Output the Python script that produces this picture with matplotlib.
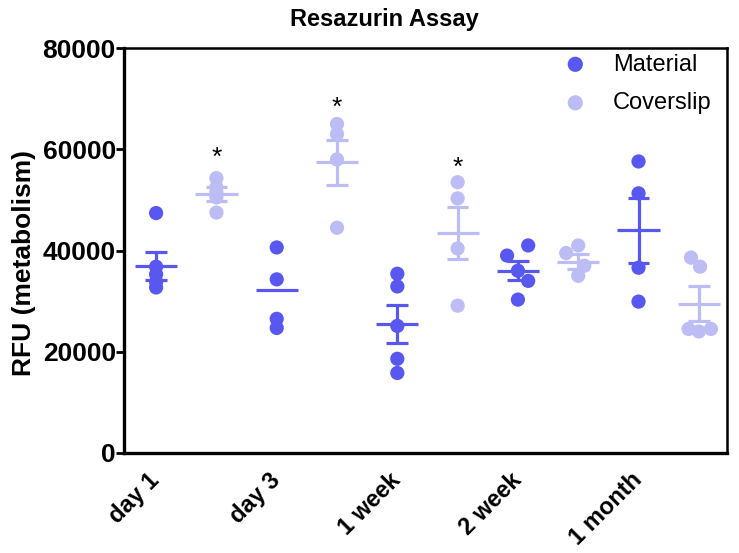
import numpy as np
import matplotlib.pyplot as plt

plt.rcParams['font.family'] = ['Liberation Sans', 'DejaVu Sans']

groups = ["day 1", "day 3", "1 week", "2 week", "1 month"]

# individual replicate values (RFU)
material = [
    [47400, 36800, 35300, 33800, 32700],
    [40600, 34300, 26500, 24700],
    [35400, 32900, 25100, 18600, 15800],
    [41000, 39000, 36000, 34000, 30300],
    [57600, 51300, 36600, 29900],
]
coverslip = [
    [54300, 52500, 51500, 50500, 47500],
    [65000, 63000, 58000, 44500],
    [53500, 50300, 40400, 29100],
    [41000, 39500, 37000, 35000],
    [38600, 36800, 24500, 24000, 24500],
]
# scatter spread as drawn in the original
material_jit = [[0] * 5, [0] * 4, [0] * 5, [0.17, -0.18, 0, 0.17, 0], [0] * 4]
coverslip_jit = [[0] * 5, [0] * 4, [0] * 4, [0, -0.2, 0.1, 0], [-0.13, 0.02, -0.17, 0, 0.2]]

material_mean = [37000, 32100, 25500, 36000, 44000]
material_sem = [2800, 0, 3800, 1900, 6450]
coverslip_mean = [51100, 57400, 43400, 37800, 29500]
coverslip_sem = [1400, 4400, 5100, 1500, 3400]

# significance marks above coverslip groups
star_groups = [0, 1, 2]
star_y = [58300, 68200, 56300]

c_mat = "#5858f0"
c_cov = "#bdbdf6"

fig = plt.figure(figsize=(7.39, 5.53), dpi=100)
ax = fig.add_axes([0.168, 0.181, 0.816, 0.732])


def draw_group(x, pts, jit, mean, sem, color):
    xs = x + np.array(jit)
    ax.scatter(xs, pts, s=105, color=color, edgecolors="none", zorder=3)
    ax.hlines(mean, x - 0.35, x + 0.35, color=color, lw=2.3, zorder=4)
    if sem > 0:
        ax.vlines(x, mean - sem, mean + sem, color=color, lw=2.3, zorder=4)
        ax.hlines([mean - sem, mean + sem], x - 0.18, x + 0.18, color=color, lw=2.3, zorder=4)


for i in range(len(groups)):
    draw_group(2 * i, material[i], material_jit[i], material_mean[i], material_sem[i], c_mat)
    draw_group(2 * i + 1, coverslip[i], coverslip_jit[i], coverslip_mean[i], coverslip_sem[i], c_cov)

for g, y in zip(star_groups, star_y):
    ax.text(2 * g + 1, y, "*", ha="center", va="center", fontsize=19)

ax.set_xlim(-0.53, 9.47)
ax.set_ylim(0, 80000)
ax.set_yticks(np.arange(0, 80001, 20000))
ax.set_xticks(np.arange(0, 10, 2))
ax.set_xticklabels(groups, rotation=45, ha="right", va="center", rotation_mode="anchor",
                   fontsize=17, fontweight="bold")
for lab in ax.get_yticklabels():
    lab.set_fontsize(19)
    lab.set_fontweight("bold")
ax.tick_params(axis="x", length=0, pad=17)
ax.tick_params(axis="y", length=6, width=2, pad=0)
for s in ["left", "bottom"]:
    ax.spines[s].set_linewidth(2.4)
for s in ["top", "right"]:
    ax.spines[s].set_linewidth(1.8)

ax.set_ylabel("RFU (metabolism)", fontsize=19, fontweight="bold")
ax.yaxis.set_label_coords(-0.146, 0.47)
ax.set_title("Resazurin Assay", fontsize=17, fontweight="bold", pad=16)
ax.title.set_x(0.431)

h1 = ax.scatter([], [], s=120, color=c_mat, edgecolors="none")
h2 = ax.scatter([], [], s=120, color=c_cov, edgecolors="none")
ax.legend([h1, h2], ["Material", "Coverslip"], loc="upper right", frameon=False,
          fontsize=17, handletextpad=0.6, labelspacing=0.7,
          borderaxespad=0.0, bbox_to_anchor=(0.99, 1.01))

fig.savefig("out.png", dpi=100)
